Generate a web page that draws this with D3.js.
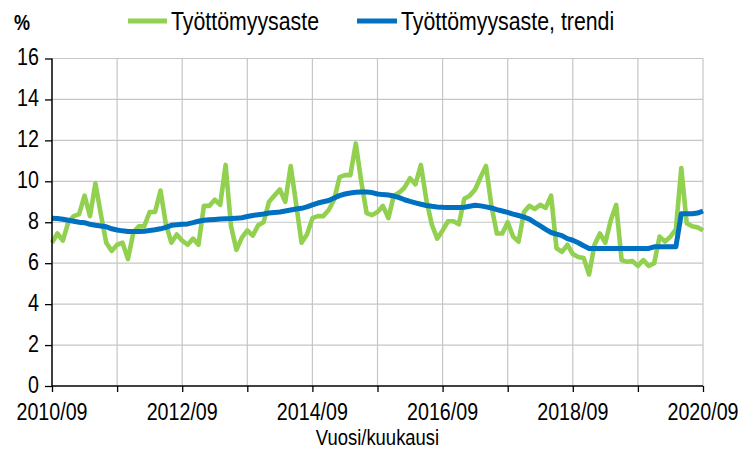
<!DOCTYPE html>
<html>
<head>
<meta charset="utf-8">
<script src="https://cdn.jsdelivr.net/npm/d3@7"></script>
<style>
  html, body { margin: 0; padding: 0; background: #fff; }
  svg { display: block; }
</style>
</head>
<body>
<svg id="chart" width="745" height="450"></svg>
<script>
// ---- data ----
const startYear = 2010, startMonth = 9;   // first observation 2010/09, monthly
const seriesNames = ["Työttömyysaste", "Työttömyysaste, trendi"];
const rate = [
  7.0, 7.45, 7.1, 8.0, 8.3, 8.4, 9.3, 8.3, 9.9, 8.4, 7.0, 6.6,
  6.9, 7.0, 6.2, 7.5, 7.8, 7.8, 8.5, 8.5, 9.55, 7.9, 7.0, 7.4,
  7.1, 6.9, 7.2, 6.9, 8.8, 8.8, 9.1, 8.85, 10.8, 7.8, 6.65, 7.25,
  7.6, 7.35, 7.85, 8.0, 9.0, 9.3, 9.6, 9.0, 10.75, 8.9, 7.0, 7.4,
  8.2, 8.3, 8.3, 8.6, 9.1, 10.2, 10.3, 10.3, 11.85, 10.0, 8.45, 8.35,
  8.5, 8.8, 8.2, 9.3, 9.45, 9.7, 10.15, 9.85, 10.8, 9.1, 7.9, 7.2,
  7.6, 8.05, 8.05, 7.9, 9.15, 9.3, 9.6, 10.2, 10.75, 8.8, 7.45, 7.45,
  8.0, 7.3, 7.05, 8.5, 8.8, 8.65, 8.85, 8.7, 9.3, 6.73, 6.55, 6.9,
  6.45, 6.3, 6.25, 5.45, 6.9, 7.45, 7.0, 8.1, 8.85, 6.15, 6.07, 6.1,
  5.87, 6.15, 5.87, 6.0, 7.3, 7.05, 7.3, 7.65, 10.65, 7.95, 7.8, 7.75,
  7.6
];
const trend = [
  8.2, 8.18, 8.15, 8.1, 8.05, 8.0, 7.98, 7.9, 7.85, 7.82, 7.78, 7.68,
  7.62, 7.58, 7.55, 7.55, 7.55, 7.56, 7.6, 7.63, 7.68, 7.75, 7.85, 7.88,
  7.9, 7.92, 7.98, 8.05, 8.1, 8.12, 8.14, 8.16, 8.17, 8.18, 8.2, 8.22,
  8.28, 8.33, 8.37, 8.4, 8.45, 8.48, 8.5, 8.55, 8.6, 8.65, 8.68, 8.75,
  8.85, 8.94, 9.0, 9.06, 9.18, 9.3, 9.38, 9.43, 9.47, 9.48, 9.48, 9.45,
  9.38, 9.35, 9.33, 9.28, 9.2, 9.1, 9.02, 8.95, 8.88, 8.82, 8.78, 8.75,
  8.73, 8.72, 8.72, 8.72, 8.73, 8.78, 8.83, 8.8, 8.75, 8.7, 8.62, 8.55,
  8.48, 8.4, 8.33, 8.25, 8.15, 7.98, 7.82, 7.65, 7.5, 7.42, 7.35, 7.2,
  7.12, 7.0, 6.85, 6.72, 6.72, 6.72, 6.72, 6.72, 6.72, 6.72, 6.72, 6.72,
  6.72, 6.72, 6.72, 6.8, 6.8, 6.8, 6.8, 6.8, 8.42, 8.42, 8.42, 8.45,
  8.55
];
const yTicks = [0, 2, 4, 6, 8, 10, 12, 14, 16];
const xTickLabels = ["2010/09", "2012/09", "2014/09", "2016/09", "2018/09", "2020/09"];
const yUnit = "%";
const xTitle = "Vuosi/kuukausi";

(function () {
  // ---- layout ----
  const svg = d3.select("#chart");
  const pl = 52, pr = 703, pt = 58.5, pb = 386;
  const FONT_SIZE = 26;
  const colors = ["#92d050", "#0070c0"];

  const nMonths = rate.length - 1;
  const x = d3.scaleLinear().domain([0, nMonths]).range([pl, pr]);
  const y = d3.scaleLinear().domain([0, 16]).range([pb, pt]);

  function measure(font) {
    const t = svg.append("text").attr("font-family", font).attr("font-size", 26).text("2010/09 Työttömyysaste");
    const w = t.node().getComputedTextLength();
    t.remove();
    return w;
  }
  const wNarrow = measure("'Liberation Sans Narrow', monospace");
  const wMono = measure("monospace");
  const hasNarrow = Math.abs(wNarrow - wMono) > 0.5;
  const family = hasNarrow ? "'Liberation Sans Narrow', 'Arial Narrow', sans-serif" : "'Liberation Sans', Arial, sans-serif";
  const sx = hasNarrow ? 1 : 0.82;

  function label(g, tx, ty, str, anchor, size, weight) {
    return g.append("text")
      .attr("transform", `translate(${tx},${ty}) scale(${sx},1)`)
      .attr("text-anchor", anchor || "start")
      .attr("font-family", family)
      .attr("font-size", size || FONT_SIZE)
      .attr("font-weight", weight || "normal")
      .attr("fill", "#000")
      .text(str);
  }

  // grid
  const grid = svg.append("g");
  grid.selectAll("line.h").data(yTicks.filter(d => d > 0)).join("line")
    .attr("x1", pl).attr("x2", pr)
    .attr("y1", d => y(d)).attr("y2", d => y(d))
    .attr("stroke", "#c6c6c6").attr("stroke-width", 1.2);
  const yearTicks = d3.range(0, nMonths + 1, 12);
  grid.selectAll("line.v").data(yearTicks.filter(d => d > 0)).join("line")
    .attr("x1", d => x(d)).attr("x2", d => x(d))
    .attr("y1", pt).attr("y2", pb)
    .attr("stroke", "#c6c6c6").attr("stroke-width", 1.2);

  // lines
  const line = d3.line().x((d, i) => x(i)).y(d => y(d));
  svg.append("path").datum(rate).attr("d", line)
    .attr("fill", "none").attr("stroke", colors[0]).attr("stroke-width", 4.6)
    .attr("stroke-linejoin", "round");
  svg.append("path").datum(trend).attr("d", line)
    .attr("fill", "none").attr("stroke", colors[1]).attr("stroke-width", 5)
    .attr("stroke-linejoin", "round");

  // axes
  const yAxis = d3.axisLeft(y).tickValues(yTicks).tickSize(7).tickFormat("");
  const gy = svg.append("g").attr("transform", `translate(${pl},0)`).call(yAxis);
  const xAxis = d3.axisBottom(x).tickValues(yearTicks).tickSize(6).tickFormat("");
  const gx = svg.append("g").attr("transform", `translate(0,${pb})`).call(xAxis);
  [gx, gy].forEach(g => {
    g.select(".domain").attr("stroke", "#000").attr("stroke-width", 1.5);
    g.selectAll(".tick line").attr("stroke", "#000").attr("stroke-width", 1.3);
  });
  gx.select(".domain").attr("d", `M${pl},0H${pr}`);
  gy.select(".domain").attr("d", `M0,${pb}V${pt}`);

  // tick labels
  const labelsG = svg.append("g");
  yTicks.forEach(v => label(labelsG, 39, y(v) + 6.5, String(v), "end", 24));
  xTickLabels.forEach((s, k) => label(labelsG, x(k * 24), 419.5, s, "middle", 24));
  label(labelsG, (pl + pr) / 2, 445.2, xTitle, "middle", 22.5);
  label(labelsG, 22, 30, yUnit, "middle", 22, "bold");

  // legend
  const leg = svg.append("g");
  const legItems = [{x0: 128, x1: 167, tx: 171}, {x0: 357, x1: 397, tx: 401}];
  legItems.forEach((it, k) => {
    leg.append("line").attr("x1", it.x0).attr("x2", it.x1).attr("y1", 21).attr("y2", 21)
      .attr("stroke", colors[k]).attr("stroke-width", 5);
    label(leg, it.tx, 30, seriesNames[k], "start");
  });
})();
</script>
</body>
</html>
